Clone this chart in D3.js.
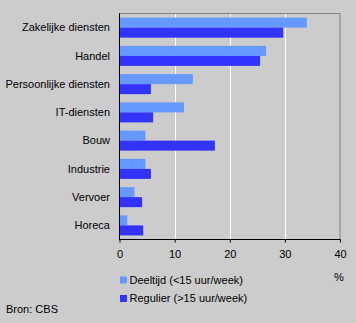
<!DOCTYPE html>
<html>
<head>
<meta charset="utf-8">
<script src="https://cdn.jsdelivr.net/npm/d3@7"></script>
<style>
  html, body { margin: 0; padding: 0; background: #cccccc; }
  svg { display: block; font-family: "Liberation Sans", Arial, sans-serif; }
</style>
</head>
<body>
<svg id="chart" width="356" height="323"></svg>
<script>
// Sectors and the share (%) of part-time vs regular workers
const categories = ["Zakelijke diensten", "Handel", "Persoonlijke diensten", "IT-diensten", "Bouw", "Industrie", "Vervoer", "Horeca"];
const deeltijd = [34.0, 26.6, 13.3, 11.7, 4.7, 4.7, 2.7, 1.4];
const regulier = [29.7, 25.5, 5.7, 6.1, 17.3, 5.7, 4.1, 4.3];
const seriesNames = ["Deeltijd (<15 uur/week)", "Regulier (>15 uur/week)"];
const seriesColors = ["#6699ff", "#3333ff"];
const xTicks = [0, 10, 20, 30, 40];

const svg = d3.select("#chart");
const plotL = 119.5, plotR = 340, plotT = 13.5, plotB = 239.5;

const x = d3.scaleLinear().domain([0, 40]).range([plotL, plotR]);
const y = d3.scaleBand().domain(categories).range([plotT, plotB]).paddingInner(0.29).paddingOuter(0.145);
const sub = d3.scaleBand().domain([0, 1]).range([0, y.bandwidth()]);

// gridlines
svg.append("g").selectAll("line").data(xTicks.filter(t => t > 0 && t < 40)).join("line")
  .attr("x1", d => Math.round(x(d)) + 0.5).attr("x2", d => Math.round(x(d)) + 0.5)
  .attr("y1", plotT).attr("y2", plotB)
  .attr("stroke", "#ffffff").attr("stroke-width", 1);

// frame top and right
svg.append("path")
  .attr("d", `M${plotL},${plotT}H${plotR}V${plotB}`)
  .attr("fill", "none").attr("stroke", "#808080").attr("stroke-width", 1);

// bars
const rows = categories.map((c, i) => ({ c, vals: [deeltijd[i], regulier[i]] }));
const g = svg.append("g").selectAll("g").data(rows).join("g")
  .attr("transform", d => `translate(0,${y(d.c)})`);
g.selectAll("rect").data(d => d.vals.map((v, k) => ({ v, k }))).join("rect")
  .attr("x", x(0))
  .attr("y", d => sub(d.k))
  .attr("width", d => x(d.v) - x(0))
  .attr("height", sub.bandwidth())
  .attr("fill", d => seriesColors[d.k]);

// category labels
svg.append("g").selectAll("text").data(categories).join("text")
  .attr("x", 110).attr("y", d => y(d) + y.bandwidth() / 2)
  .attr("dy", "0.35em").attr("text-anchor", "end")
  .attr("font-size", 11).attr("fill", "#000").text(d => d);

// x axis
const xAxis = d3.axisBottom(x).tickValues(xTicks).tickSize(3).tickPadding(8);
const ax = svg.append("g").attr("transform", `translate(0,${plotB})`).call(xAxis);
ax.select(".domain").remove();
ax.selectAll("line").attr("stroke", "#000");
ax.selectAll("text").attr("font-size", 11).attr("fill", "#000").attr("font-family", "Liberation Sans, Arial, sans-serif");
svg.append("line").attr("x1", plotL - 0.5).attr("x2", plotR + 0.5).attr("y1", plotB).attr("y2", plotB).attr("stroke", "#000");
svg.append("line").attr("x1", plotL).attr("x2", plotL).attr("y1", plotT - 0.5).attr("y2", plotB).attr("stroke", "#000");

svg.append("text").attr("x", 339).attr("y", 281).attr("text-anchor", "middle")
  .attr("font-size", 11).text("%");

// legend
const lg = svg.append("g").selectAll("g").data(seriesNames).join("g")
  .attr("transform", (d, i) => `translate(120,${276.5 + i * 18.5})`);
lg.append("rect").attr("width", 7).attr("height", 7).attr("fill", (d, i) => seriesColors[i]);
lg.append("text").attr("x", 9.5).attr("y", 3.5).attr("dy", "0.35em")
  .attr("font-size", 11).text(d => d);

svg.append("text").attr("x", 6).attr("y", 313).attr("font-size", 11).text("Bron: CBS");
</script>
</body>
</html>
